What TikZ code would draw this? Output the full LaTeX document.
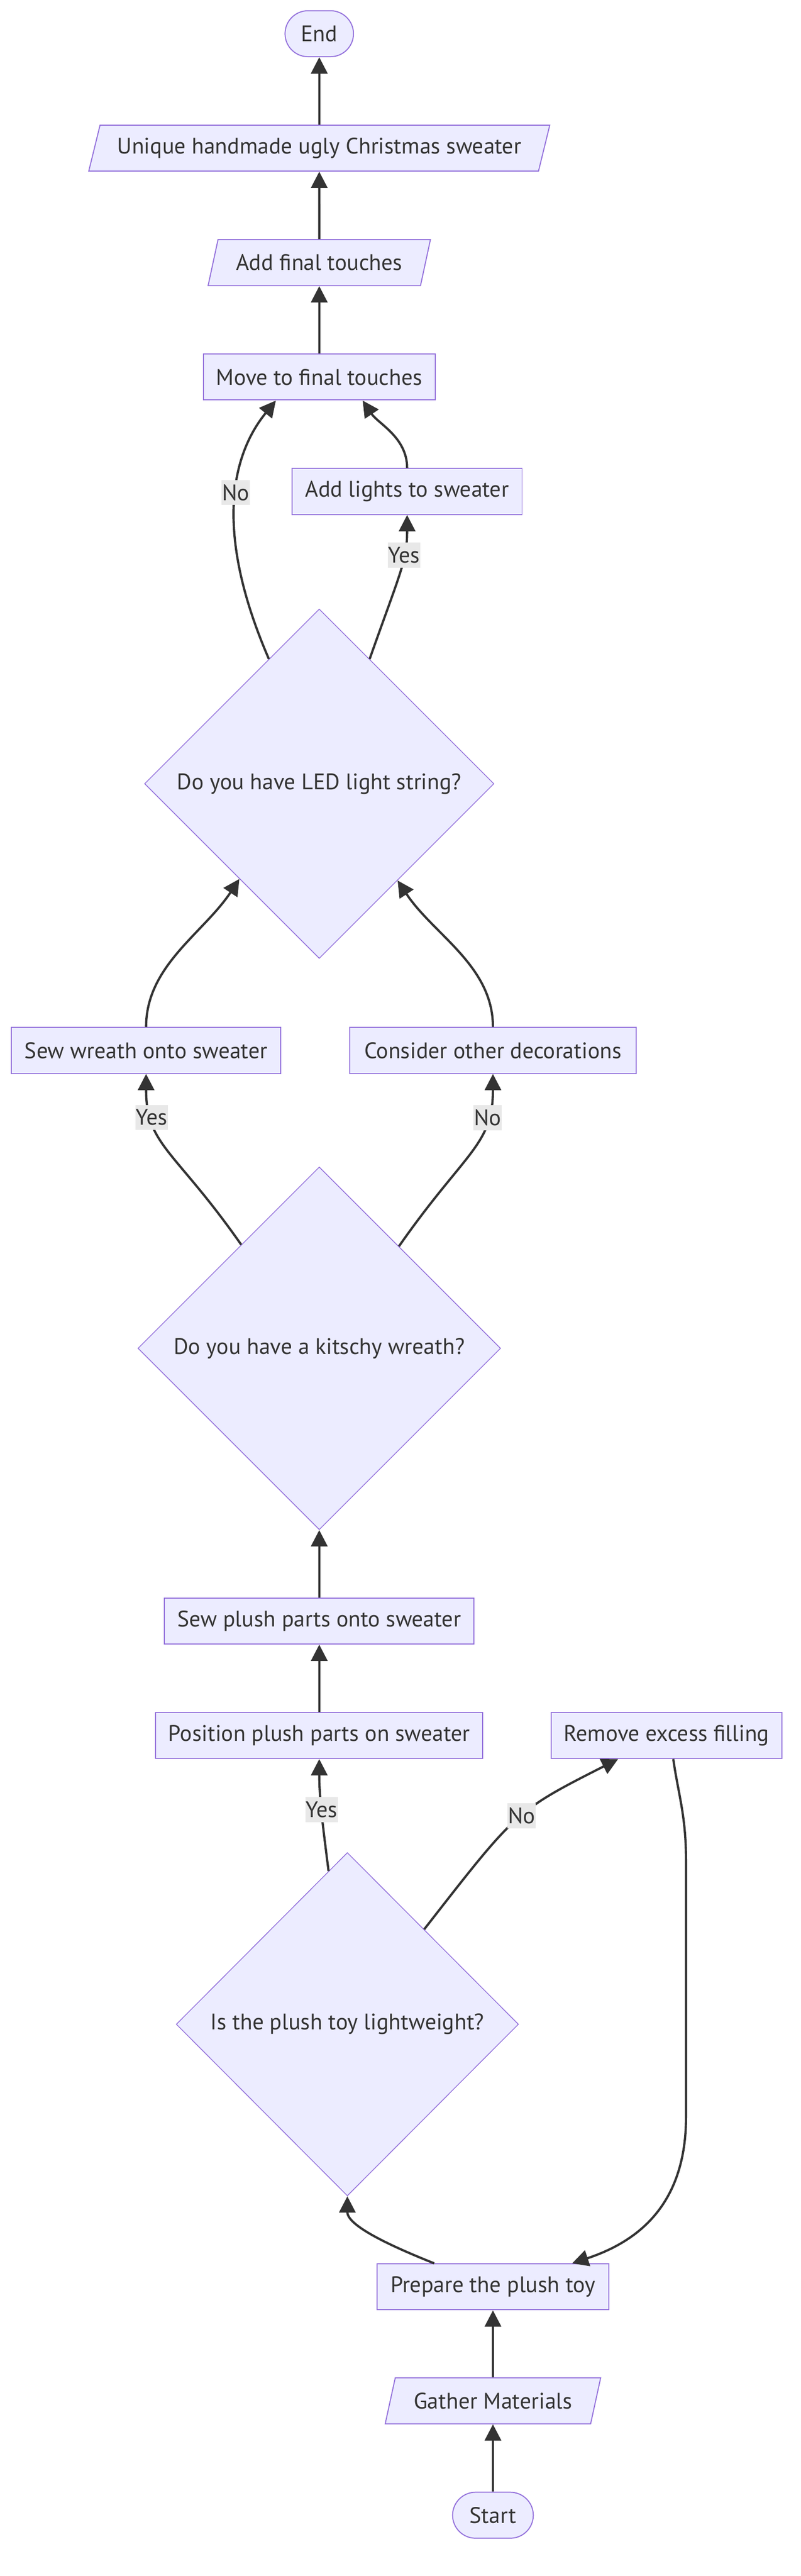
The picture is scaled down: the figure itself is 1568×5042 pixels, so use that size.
\documentclass[tikz,border=0pt]{standalone}
\usepackage{fontspec}
\setmainfont{PT Sans}
\usetikzlibrary{arrows.meta,%
                shapes.geometric}
\definecolor{nodefill}{HTML}{ECECFF}
\definecolor{nodeline}{HTML}{9370DB}
\definecolor{ink}{HTML}{333333}
\definecolor{labelbg}{HTML}{E8E8E8}
\newcommand{\flowfont}{\fontsize{22pt}{26pt}\selectfont}
\tikzstyle{task}=[rectangle, draw=nodeline, line width=1pt, fill=nodefill, text=ink, font=\flowfont, minimum height=45pt, inner sep=0pt]
\tikzstyle{terminal}=[task, rounded corners=22.5pt]
\tikzstyle{io}=[task, trapezium, trapezium left angle=63.4, trapezium right angle=116.6, trapezium stretches=true]
\tikzstyle{question}=[task, diamond, aspect=1, line width=0.75pt]
\tikzstyle{flow}=[draw=ink, line width=2.2pt, -{Triangle[length=16pt,width=16pt]}]
\tikzstyle{answer}=[fill=labelbg, text=ink, font=\flowfont, inner xsep=0.5pt, inner ysep=0pt, minimum height=24.5pt]

\begin{document}
\begin{tikzpicture}[x=0.5pt,y=0.5pt]
  \useasboundingbox (0,0) rectangle (1568,-5042);
  % top part
  \node[terminal, minimum width=67pt] (stop) at (625,-66) {End};
  \node[io, minimum width=453pt] (sweater) at (625,-290) {Unique handmade ugly Christmas sweater};
  \node[io, minimum width=218pt] (finaltouch) at (625,-514) {Add final touches};
  \node[task, minimum width=227pt] (movefinal) at (625,-738) {Move to final touches};
  \node[task, minimum width=225pt] (addlights) at (797,-962) {Add lights to sweater};
  \node[question, minimum width=342pt, minimum height=342pt] (ledq) at (625,-1534) {Do you have LED light string?};
  % middle part
  \node[task, minimum width=264pt] (sewwreath) at (286,-2056) {Sew wreath onto sweater};
  \node[task, minimum width=280pt] (otherdeco) at (965,-2056) {Consider other decorations};
  \node[question, minimum width=355pt, minimum height=355pt] (wreathq) at (625,-2639) {Do you have a kitschy wreath?};
  \node[task, minimum width=303pt] (sewplush) at (625,-3173) {Sew plush parts onto sweater};
  \node[task, minimum width=320pt] (position) at (625,-3397) {Position plush parts on sweater};
  \node[task, minimum width=226pt] (removefill) at (1305,-3397) {Remove excess filling};
  % bottom part
  \node[question, minimum width=335pt, minimum height=336pt] (plushq) at (680,-3962) {Is the plush toy lightweight?};
  \node[task, minimum width=227pt] (prepare) at (965,-4476) {Prepare the plush toy};
  \node[io, minimum width=211pt] (gather) at (965,-4699) {Gather Materials};
  \node[terminal, minimum width=79pt] (start) at (965,-4923) {Start};

  \draw[flow] (start) -- (gather);
  \draw[flow] (gather) -- (prepare);
  \draw[flow] ([xshift=-57.5pt]prepare.north) .. controls +(-70,28) and +(0,-60) .. (plushq.south);
  \draw[flow] (plushq.97.3) .. controls +(-10,80) and +(0,-80) .. node[answer, pos=0.55] {Yes} (position.south);
  \draw[flow] (plushq.51.4) .. controls +(180,231) and +(-201,-102) .. node[answer, pos=0.53] {No} ([xshift=-47.5pt]removefill.south);
  \draw[flow] ([xshift=6.5pt]removefill.south) .. controls +(10,-70) and +(0,90) .. ++(25,-200) -- ++(0,-500)
     .. controls +(0,-180) and +(120,40) .. ([xshift=77.5pt]prepare.north);
  \draw[flow] (position) -- (sewplush);
  \draw[flow] (sewplush) -- (wreathq);
  \draw[flow] (wreathq.127.4) .. controls +(-130,186) and +(0,-140) .. node[answer, pos=0.75] {Yes} (sewwreath.south);
  \draw[flow] (wreathq.52.6) .. controls +(130,186) and +(0,-140) .. node[answer, pos=0.75] {No} (otherdeco.south);
  \draw[flow] (sewwreath.north) .. controls +(0,120) and +(-70,-106) .. (ledq.230.8);
  \draw[flow] (otherdeco.north) .. controls +(0,120) and +(70,-106) .. (ledq.309.9);
  \draw[flow] (ledq.68) .. controls +(60,170) and +(0,-90) .. node[answer, pos=0.65] {Yes} (addlights.south);
  \draw[flow] (ledq.112) .. controls +(-121.5,280.5) and +(-70,-86) .. node[answer, pos=0.5] {No} ([xshift=-42.5pt]movefinal.south);
  \draw[flow] (addlights.north) .. controls +(0,60) and +(30,-45) .. ([xshift=42.5pt]movefinal.south);
  \draw[flow] (movefinal) -- (finaltouch);
  \draw[flow] (finaltouch) -- (sweater);
  \draw[flow] (sweater) -- (stop);
\end{tikzpicture}
\end{document}
